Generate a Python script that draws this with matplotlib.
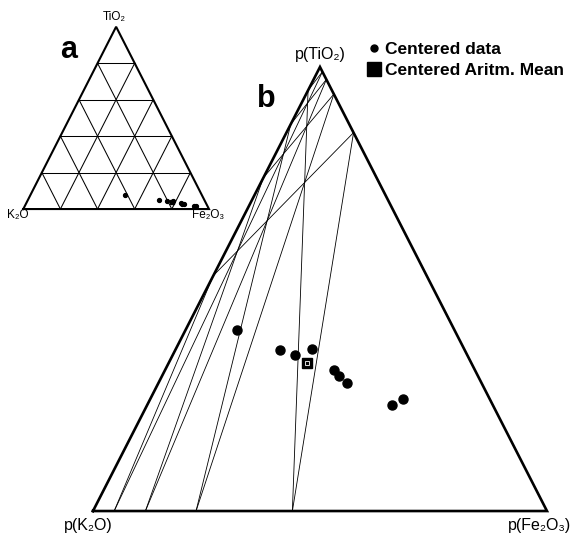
import numpy as np
import matplotlib.pyplot as plt
from matplotlib.lines import Line2D

plt.rcParams['font.family'] = ['Liberation Sans', 'DejaVu Sans']

# centered compositions, parts of (K2O, TiO2, Fe2O3)
k2o_c = [0.478, 0.407, 0.379, 0.336, 0.310, 0.305, 0.297, 0.221, 0.191]
tio2_c = [0.408, 0.362, 0.351, 0.365, 0.317, 0.305, 0.289, 0.239, 0.253]
fe2o3_c = [0.114, 0.231, 0.270, 0.299, 0.373, 0.390, 0.414, 0.540, 0.556]

# centered arithmetic mean
mean_c = [0.361, 0.333, 0.306]

# centre (geometric mean) of the raw data
center = np.array([0.158, 0.035, 0.807])

grid_levels = [0.2, 0.4, 0.6, 0.8]

H = np.sqrt(3) / 2


def closure(x):
    x = np.asarray(x, dtype=float)
    return x / x.sum(axis=-1, keepdims=True)


def perturb(x, p):
    return closure(np.asarray(x, dtype=float) * p)


def to_xy(comp):
    comp = np.atleast_2d(comp)
    return comp[:, 2] + comp[:, 1] / 2, comp[:, 1] * H


def grid_segments(levels):
    segs = []
    for i in range(3):
        j, k = [n for n in range(3) if n != i]
        for c in levels:
            a = np.zeros(3)
            a[i], a[j] = c, 1 - c
            b = np.zeros(3)
            b[i], b[k] = c, 1 - c
            segs.append(np.vstack([a, b]))
    return segs


def draw_triangle(ax, lw):
    ax.plot([0, 1, 0.5, 0], [0, 0, H, 0], color='black', lw=lw,
            solid_joinstyle='miter', clip_on=False, zorder=3)
    ax.set_xlim(0, 1)
    ax.set_ylim(0, H)
    ax.axis('off')


centered = np.column_stack([k2o_c, tio2_c, fe2o3_c])
raw = perturb(centered, center)
raw_mean = perturb(mean_c, center)

fig = plt.figure(figsize=(5.79, 5.36), dpi=100)

# ---- a: raw data on the plain ternary grid
ax_a = fig.add_axes([0.0402, 0.610, 0.3207, 0.3401])
for seg in grid_segments(grid_levels):
    x, y = to_xy(seg)
    ax_a.plot(x, y, color='black', lw=0.75, clip_on=False)
draw_triangle(ax_a, 1.5)
x, y = to_xy(raw)
ax_a.plot(x, y, 'o', color='black', ms=2.8, clip_on=False, zorder=4)
x, y = to_xy(raw_mean)
ax_a.plot(x, y, 's', color='black', ms=3.2, clip_on=False, zorder=4)

lab = dict(fontsize=8.5, ha='center', va='center', textcoords='offset pixels')
ax_a.annotate('TiO₂', (0.5, H), xytext=(-2, 10), **lab)
ax_a.annotate('K₂O', (0, 0), xytext=(-6, -6), **lab)
ax_a.annotate('Fe₂O₃', (1, 0), xytext=(-1, -6), **lab)
ax_a.text(0.245, 0.875, 'a', transform=ax_a.transAxes, fontsize=22,
          fontweight='bold', ha='center', va='center')

# ---- b: centered data with the grid moved by the same perturbation
ax_b = fig.add_axes([0.1606, 0.0466, 0.7841, 0.8284])
for seg in grid_segments(grid_levels):
    x, y = to_xy(perturb(seg, 1 / center))
    ax_b.plot(x, y, color='black', lw=0.6, clip_on=False)
draw_triangle(ax_b, 1.9)
x, y = to_xy(centered)
ax_b.plot(x, y, 'o', color='black', ms=6.5, clip_on=False, zorder=4)
x, y = to_xy(mean_c)
ax_b.plot(x, y, 's', color='black', ms=7.5, clip_on=False, zorder=4)
ax_b.plot(x, y, 's', mfc='none', mec='white', mew=0.6, ms=3.5,
          ls=':', clip_on=False, zorder=5)

lab = dict(fontsize=11.5, ha='center', va='center', textcoords='offset pixels')
ax_b.annotate('p(TiO₂)', (0.5, H), xytext=(0, 12), **lab)
ax_b.annotate('p(K₂O)', (0, 0), xytext=(-5, -14), **lab)
ax_b.annotate('p(Fe₂O₃)', (1, 0), xytext=(-7, -14), **lab)
ax_b.text(0.381, 0.928, 'b', transform=ax_b.transAxes, fontsize=22,
          fontweight='bold', ha='center', va='center')

handles = [
    Line2D([], [], ls='none', marker='o', color='black', ms=5),
    Line2D([], [], ls='none', marker='s', color='black', ms=9.5),
]
fig.legend(handles, ['Centered data', 'Centered Aritm. Mean'],
           loc='upper left', bbox_to_anchor=(369 / 579, 1 - 42 / 536),
           frameon=False, handlelength=0.6, handletextpad=0.3,
           labelspacing=0.35, borderpad=0, borderaxespad=0,
           prop=dict(weight='bold', size=12.5))

fig.savefig('out.png', dpi=100)
